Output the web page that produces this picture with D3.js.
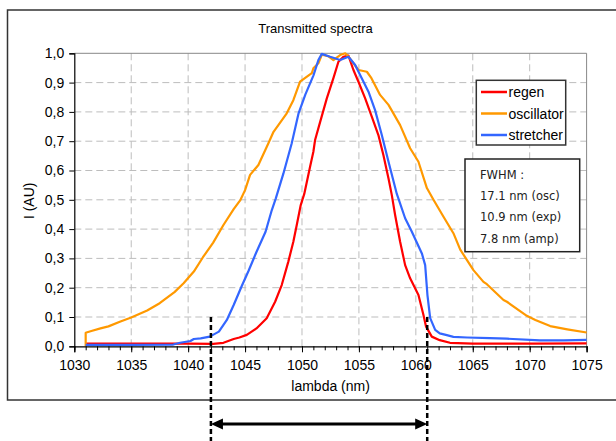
<!DOCTYPE html>
<html>
<head>
<meta charset="utf-8">
<script src="https://cdn.jsdelivr.net/npm/d3@7"></script>
<style>
body { margin: 0; background: #fff; }
svg { display: block; }
text { font-family: "Liberation Sans", Arial, sans-serif; fill: #000; }
.fwhm { font-family: "DejaVu Sans", Verdana, sans-serif; fill: #222; }
</style>
</head>
<body>
<svg id="chart" width="616" height="441"></svg>
<script>
// spectra: [lambda (nm), I (AU)]
const regen = [[1031,0.009],[1036,0.009],[1040,0.009],[1042.2,0.008],[1043.1,0.012],[1044,0.025],[1044.5,0.03],
  [1045.15,0.039],[1046,0.061],[1046.9,0.096],[1047.64,0.152],[1048.22,0.209],[1048.8,0.289],[1049.24,0.357],
  [1049.54,0.414],[1049.89,0.482],[1050.2,0.52],[1050.71,0.613],[1051,0.664],[1051.15,0.704],[1051.59,0.765],
  [1052.18,0.846],[1052.76,0.915],[1053.2,0.971],[1053.64,0.988],[1054.08,0.992],[1054.52,0.943],[1054.96,0.903],
  [1055.55,0.846],[1056.13,0.784],[1056.71,0.721],[1057.15,0.653],[1057.6,0.573],[1057.89,0.516],[1058.18,0.448],
  [1058.62,0.357],[1059.06,0.277],[1059.5,0.232],[1060.23,0.175],[1060.67,0.107],[1060.9,0.067],[1061.4,0.033],
  [1062.1,0.021],[1063,0.012],[1065,0.009],[1070,0.009],[1075,0.01]];

const oscillator = [[1031,0],[1031,0.046],[1031.5,0.052],[1032.3,0.061],[1033,0.068],[1034,0.084],[1035,0.098],
  [1036.4,0.122],[1037.5,0.147],[1038.8,0.185],[1039.6,0.215],[1040.5,0.255],[1041.3,0.304],[1042.2,0.354],
  [1043.1,0.414],[1044,0.468],[1044.6,0.5],[1045,0.533],[1045.44,0.585],[1046.17,0.619],[1047.05,0.693],
  [1047.5,0.732],[1048.66,0.795],[1049.24,0.84],[1049.83,0.903],[1050.86,0.932],[1051,0.949],[1051.44,0.966],
  [1051.74,0.995],[1052.3,0.99],[1052.76,0.977],[1053.35,0.994],[1053.8,1.0],[1054.2,0.983],[1054.96,0.943],
  [1055.7,0.937],[1056.1,0.915],[1056.86,0.858],[1057.6,0.824],[1058.62,0.755],[1059.5,0.676],[1060.23,0.63],
  [1060.97,0.54],[1061.55,0.5],[1062.43,0.442],[1063.3,0.386],[1063.9,0.33],[1064.48,0.295],[1065.06,0.26],
  [1065.94,0.22],[1066.24,0.212],[1067.7,0.158],[1068,0.152],[1069.75,0.104],[1070.5,0.09],[1071.8,0.069],
  [1073.3,0.058],[1075,0.047]];

const stretcher = [[1031,0.005],[1035,0.005],[1038.7,0.006],[1039.3,0.012],[1040.2,0.018],[1040.5,0.025],
  [1041.1,0.027],[1041.9,0.033],[1042.7,0.05],[1043.4,0.09],[1044,0.141],[1044.7,0.205],[1045.3,0.257],
  [1046,0.322],[1046.8,0.391],[1047.35,0.465],[1047.7,0.505],[1048.37,0.59],[1049.1,0.693],[1049.7,0.795],
  [1050.3,0.86],[1051,0.924],[1051.44,0.977],[1051.74,0.998],[1052.47,0.988],[1053.35,0.977],[1054.08,0.988],
  [1054.67,0.96],[1055.25,0.915],[1055.84,0.869],[1056.42,0.806],[1057.01,0.721],[1057.6,0.63],[1058.33,0.52],
  [1059.06,0.437],[1059.65,0.391],[1060.53,0.317],[1060.82,0.277],[1061.02,0.175],[1061.26,0.096],[1061.7,0.056],
  [1062.1,0.044],[1062.72,0.038],[1063.3,0.032],[1064.5,0.03],[1066.5,0.028],[1068,0.026],[1070.9,0.02],
  [1073,0.02],[1075,0.022]];

const seriesNames = ["regen", "oscillator", "stretcher"];
const seriesColors = ["#ff0000", "#ff9900", "#3366ff"];
const xTicks = d3.range(1030, 1076, 5);
const yTicks = d3.range(0, 11).map(d => d / 10);
const fwhmLines = ["FWHM :", "17.1 nm (osc)", "10.9 nm (exp)", "7.8 nm (amp)"];
const markers = [1042, 1061]; // dashed guides (nm)

const svg = d3.select("#chart");
const pLeft = 74.3, pRight = 586.6, pTop = 53.3, pBottom = 346.3;

const x = d3.scaleLinear().domain([1030, 1075]).range([pLeft, pRight]);
const y = d3.scaleLinear().domain([0, 1]).range([pBottom, pTop]);

// outer chart frame
svg.append("rect")
  .attr("x", 7.5).attr("y", 10).attr("width", 640).attr("height", 390)
  .attr("fill", "none").attr("stroke", "#333").attr("stroke-width", 1.5);

// title
svg.append("text").attr("x", 315.5).attr("y", 33)
  .attr("text-anchor", "middle").style("font-size", "13px")
  .text("Transmitted spectra");

// grid
svg.append("g").selectAll("line")
  .data(yTicks.filter(d => d > 0 && d < 1))
  .join("line")
  .attr("x1", pLeft).attr("x2", pRight)
  .attr("y1", d => y(d)).attr("y2", d => y(d))
  .attr("stroke", "#bdbdbd").attr("stroke-dasharray", "7,4");

svg.append("g").selectAll("line")
  .data(xTicks.filter(d => d > 1030 && d < 1075))
  .join("line")
  .attr("x1", d => x(d)).attr("x2", d => x(d))
  .attr("y1", pTop).attr("y2", pBottom)
  .attr("stroke", "#bdbdbd").attr("stroke-dasharray", "7,4");

// plot border top/right
svg.append("path")
  .attr("d", `M${pLeft},${pTop}H${pRight}V${pBottom}`)
  .attr("fill", "none").attr("stroke", "#888");

// curves
const line = d3.line().x(d => x(d[0])).y(d => y(d[1]));
[regen, oscillator, stretcher].forEach((s, i) => {
  svg.append("path").datum(s)
    .attr("d", line)
    .attr("fill", "none")
    .attr("stroke", seriesColors[i])
    .attr("stroke-width", 2.2)
    .attr("stroke-linejoin", "round");
});

// axes
const xMinor = d3.axisBottom(x).tickValues(d3.range(1030, 1076, 1)).tickSize(4).tickFormat("");
const xAxis = d3.axisBottom(x).tickValues(xTicks).tickSize(6).tickPadding(8).tickFormat(d3.format("d"));
const yAxis = d3.axisLeft(y).tickValues(yTicks).tickSize(5).tickPadding(5)
  .tickFormat(d => d3.format(".1f")(d).replace(".", ","));

svg.append("g").attr("transform", `translate(0,${pBottom})`).call(xMinor)
  .call(g => g.select(".domain").remove());
const gx = svg.append("g").attr("transform", `translate(0,${pBottom})`).call(xAxis);
const gy = svg.append("g").attr("transform", `translate(${pLeft},0)`).call(yAxis);
[gx, gy].forEach(g => {
  g.selectAll("text").style("font-size", "14px").attr("fill", "#000")
    .style("font-family", "'Liberation Sans', Arial, sans-serif");
  g.select(".domain").attr("stroke", "#000").attr("stroke-width", 1.2);
});
svg.selectAll(".tick line").attr("stroke", "#000");

// axis titles
svg.append("text").attr("x", 330.6).attr("y", 390.5)
  .attr("text-anchor", "middle").style("font-size", "14px")
  .text("lambda (nm)");
svg.append("text")
  .attr("transform", `translate(34,${(pTop + pBottom) / 2 + 1}) rotate(-90)`)
  .attr("text-anchor", "middle").style("font-size", "14px")
  .text("I (AU)");

// legend
const lg = svg.append("g");
lg.append("rect").attr("x", 476.3).attr("y", 80.3).attr("width", 89.4).attr("height", 64.7)
  .attr("fill", "#fff").attr("stroke", "#333").attr("stroke-width", 1.5);
seriesNames.forEach((n, i) => {
  const cy = 92 + i * 21.5;
  lg.append("line").attr("x1", 481).attr("x2", 507).attr("y1", cy).attr("y2", cy)
    .attr("stroke", seriesColors[i]).attr("stroke-width", 2.5);
  lg.append("text").attr("x", 508.5).attr("y", cy + 5).style("font-size", "14px").text(n);
});

// FWHM box
const fb = svg.append("g");
fb.append("rect").attr("x", 465).attr("y", 159).attr("width", 114.7).attr("height", 92.7)
  .attr("fill", "#fff").attr("stroke", "#222").attr("stroke-width", 1.5);
fwhmLines.forEach((t, i) => {
  fb.append("text").attr("class", "fwhm").attr("x", 480).attr("y", 179 + i * 21.2)
    .style("font-size", "11.5px").text(t);
});

// dashed guide lines and double arrow
svg.append("g").selectAll("line")
  .data(markers)
  .join("line")
  .attr("x1", d => x(d)).attr("x2", d => x(d))
  .attr("y1", y(0.1)).attr("y2", 441)
  .attr("stroke", "#000").attr("stroke-width", 2.5).attr("stroke-dasharray", "5,3");

const ay = 424;
const x0 = x(markers[0]), x1 = x(markers[1]);
svg.append("line").attr("x1", x0 + 8).attr("x2", x1 - 8).attr("y1", ay).attr("y2", ay)
  .attr("stroke", "#000").attr("stroke-width", 3);
svg.append("path").attr("d", `M${x0},${ay}L${x0 + 12},${ay - 5.5}L${x0 + 12},${ay + 5.5}Z`).attr("fill", "#000");
svg.append("path").attr("d", `M${x1},${ay}L${x1 - 12},${ay - 5.5}L${x1 - 12},${ay + 5.5}Z`).attr("fill", "#000");
</script>
</body>
</html>
